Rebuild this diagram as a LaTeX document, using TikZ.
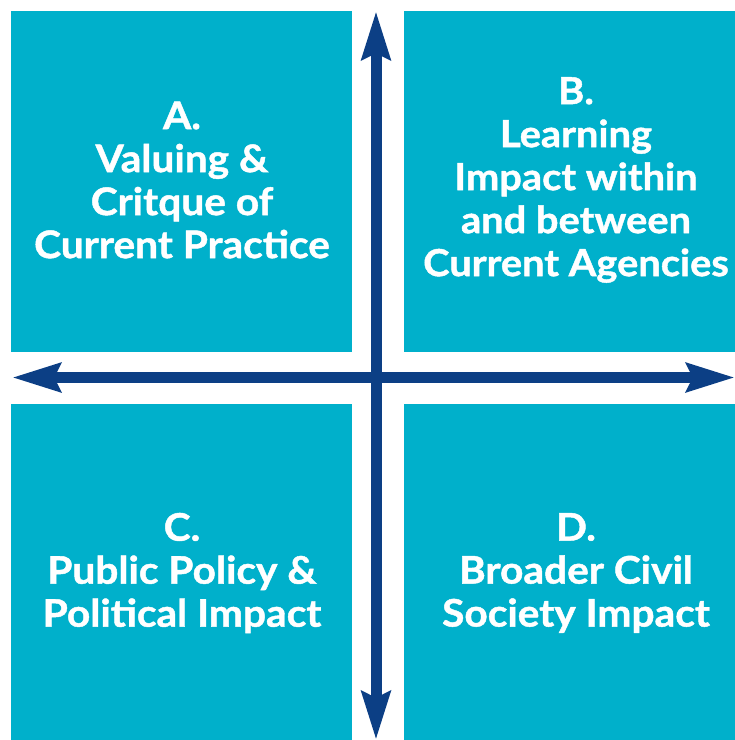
\documentclass[tikz,border=0pt]{standalone}
\usepackage{fontspec}
\setmainfont{Lato}[BoldFeatures={FakeStretch=1.07,FakeBold=1.2}]
\usetikzlibrary{arrows.meta}
\definecolor{boxcyan}{HTML}{00B0CB}
\definecolor{arrowblue}{HTML}{0C3F85}
\tikzset{
  quad/.style={fill=boxcyan, draw=none, anchor=north west, inner sep=0pt},
  quadtext/.style={text=white, align=center, font=\bfseries\fontsize{38}{43}\selectfont, inner sep=0pt},
  axis/.style={draw=arrowblue, line width=11pt, -{Stealth[length=48pt,width=28pt,inset=6pt]}},
}
\begin{document}
\begin{tikzpicture}[x=1pt,y=-1pt]
\useasboundingbox (0,0) rectangle (735,740);
\node[quad, minimum width=341pt, minimum height=341pt] (A) at (11,11) {};
\node[quad, minimum width=331pt, minimum height=341pt] (B) at (404,11) {};
\node[quad, minimum width=341pt, minimum height=336pt] (C) at (11,404) {};
\node[quad, minimum width=331pt, minimum height=336pt] (D) at (404,404) {};
\node[quadtext] (At) at (182,180) {A.\\Valuing \&\\Critque of\\Current Practice};
\node[quadtext, font=\bfseries\fontsize{37.2}{43}\selectfont] (Bt) at (576,180) {B.\\Learning\\Impact within\\and between\\Current Agencies};
\node[quadtext] (Ct) at (182,573) {C.\\Public Policy \&\\Political Impact};
\node[quadtext] (Dt) at (576,573) {D.\\Broader Civil\\Society Impact};
\coordinate (center) at (376,377.5);
\coordinate (top) at (376,11);
\coordinate (bottom) at (376,740);
\coordinate (left) at (12,377.5);
\coordinate (right) at (735,377.5);
\draw[axis] (center) -- (top);
\draw[axis] (center) -- (bottom);
\draw[axis] (center) -- (left);
\draw[axis] (center) -- (right);
\end{tikzpicture}
\end{document}
